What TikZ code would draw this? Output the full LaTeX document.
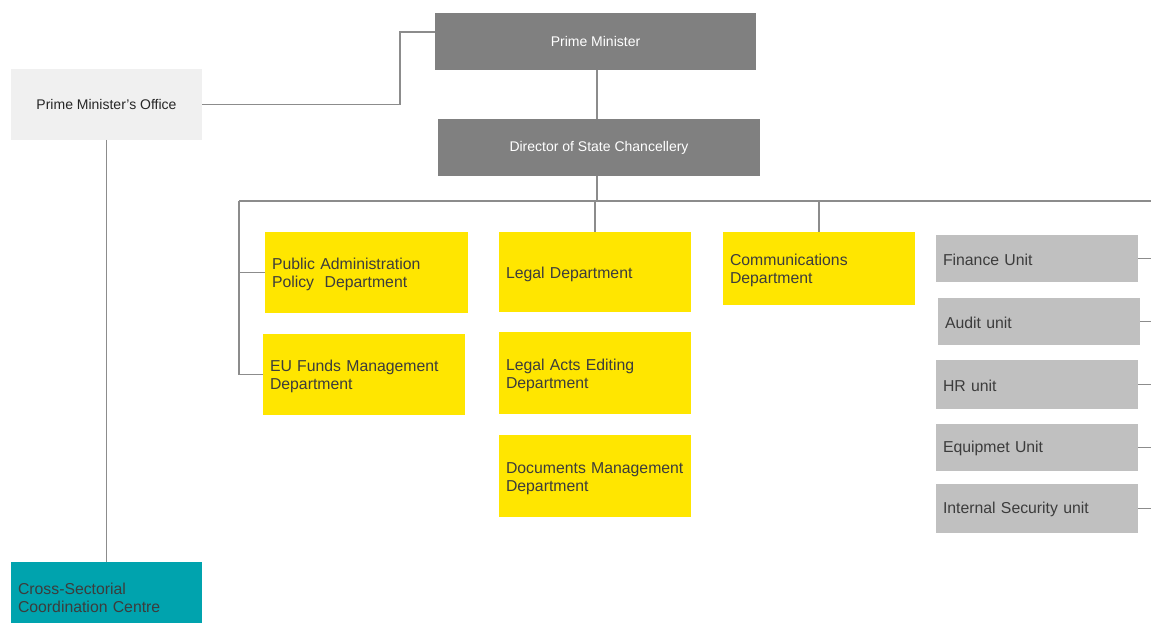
\documentclass[tikz,border=0pt]{standalone}
\usepackage{fontspec}
\setmainfont{Liberation Sans}
\definecolor{linegray}{HTML}{8C8C8C}
\definecolor{darkbox}{HTML}{808080}
\definecolor{lightbox}{HTML}{F0F0F0}
\definecolor{unitbox}{HTML}{C0C0C0}
\definecolor{deptyellow}{HTML}{FFE600}
\definecolor{teal}{HTML}{00A3AE}
\definecolor{txtdark}{HTML}{3C3C3C}
\begin{document}
\begin{tikzpicture}[x=1pt,y=-1pt,
  base/.style={rectangle, draw=none, inner ysep=0pt, outer sep=0pt},
  topbox/.style={base, fill=darkbox, text=white, font=\fontsize{14}{17}\selectfont, align=center},
  officebox/.style={base, fill=lightbox, text=black!85, font=\fontsize{14}{17}\selectfont, align=center},
  dept/.style={base, fill=deptyellow, text=txtdark, font=\fontsize{15.8}{18}\selectfont, align=left, inner xsep=7pt,
    execute at begin node={\rule{0pt}{15.5pt}}},
  unit/.style={base, fill=unitbox, text=txtdark, font=\fontsize{15.8}{18}\selectfont, align=left, inner xsep=7pt,
    execute at begin node={\rule{0pt}{13.5pt}}},
  centre/.style={base, fill=teal, text=txtdark, font=\fontsize{15.8}{18}\selectfont, align=left, inner xsep=7pt,
    execute at begin node={\rule{0pt}{13.5pt}}},
  link/.style={draw=linegray, line width=1.2pt}
]
\useasboundingbox (0,0) rectangle (1151,623);

% leadership
\node[topbox, minimum width=321pt, minimum height=57pt] (PM) at (595.5,41.5) {Prime Minister};
\node[topbox, minimum width=322pt, minimum height=57pt] (DSC) at (599,147.5) {Director of State Chancellery};
\node[officebox, minimum width=191pt, minimum height=71pt] (PMO) at (106.5,104.5) {Prime Minister's Office};
\node[centre, minimum width=191pt, minimum height=70pt, text width=177pt] (CSCC) at (106.5,597) {Cross-Sectorial\\Coordination Centre};

% departments
\node[dept, minimum height=81pt, text width=189pt] (PAPD) at (366.5,272.5) {Public Administration\\Policy\ \ Department};
\node[dept, minimum height=81pt, text width=188pt] (EU) at (364,374.5) {EU Funds Management\\Department};
\node[dept, minimum height=80pt, text width=178pt] (LEG) at (595,272) {Legal Department};
\node[dept, minimum height=82pt, text width=178pt] (LAE) at (595,373) {Legal Acts Editing\\Department};
\node[dept, minimum height=82pt, text width=178pt] (DOC) at (595,476) {Documents Management\\Department};
\node[dept, minimum height=73pt, text width=178pt] (COM) at (819,268.5) {Communications\\Department};

% support units
\node[unit, minimum height=47pt, text width=188pt] (FIN) at (1037,258.5) {Finance Unit};
\node[unit, minimum height=47pt, text width=188pt] (AUD) at (1039,321.5) {Audit unit};
\node[unit, minimum height=49pt, text width=188pt] (HR) at (1037,384.5) {HR unit};
\node[unit, minimum height=47pt, text width=188pt] (EQ) at (1037,447.5) {Equipmet Unit};
\node[unit, minimum height=49pt, text width=188pt] (SEC) at (1037,508.5) {Internal Security unit};

% bus line below the director
\coordinate (busL) at (239,201);
\coordinate (busR) at (1151,201);

% connectors
\draw[link] (PMO.east) -- (PMO.east -| 400,0) |- ([yshift=9.5pt]PM.west);
\draw[link] (PMO.south) -- (CSCC.north);
\draw[link] (PM.south -| 597,0) -- (DSC.north -| 597,0);
\draw[link] (DSC.south -| 597,0) -- (busL -| 597,0);
\draw[link] (busL) -- (busR);
\draw[link] (LEG.north |- busL) -- (LEG.north);
\draw[link] (COM.north |- busL) -- (COM.north);
\draw[link] (busL) |- (EU.west);
\draw[link] (busL |- PAPD.west) -- (PAPD.west);
\foreach \u in {FIN,AUD,HR,EQ,SEC}
  \draw[link] (\u.east) -- (\u.east -| busR);
\end{tikzpicture}
\end{document}
